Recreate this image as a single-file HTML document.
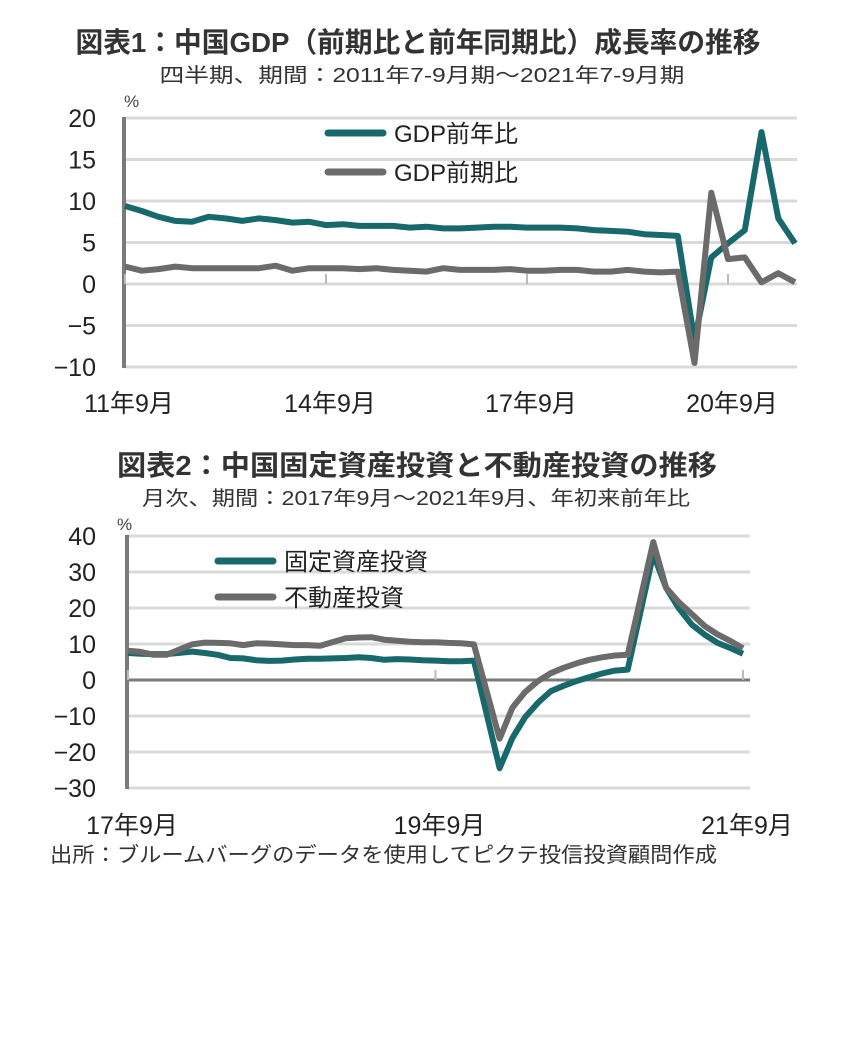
<!DOCTYPE html>
<html><head><meta charset="utf-8">
<style>
html,body{margin:0;padding:0;background:#fff;}
body{width:853px;height:1052px;overflow:hidden;font-family:"Liberation Sans","Noto Sans CJK JP",sans-serif;}
svg text{font-family:"Liberation Sans","Noto Sans CJK JP",sans-serif;}
</style></head>
<body>
<svg id="svg" width="853" height="1052">
<text x="418" y="52" font-size="28" font-weight="bold" text-anchor="middle" fill="#333" textLength="685" lengthAdjust="spacingAndGlyphs">図表1：中国GDP（前期比と前年同期比）成長率の推移</text>
<text x="422" y="82" font-size="20" text-anchor="middle" fill="#333" textLength="525" lengthAdjust="spacingAndGlyphs">四半期、期間：2011年7-9月期～2021年7-9月期</text>
<text x="124" y="107" font-size="17" fill="#444">%</text>
<g id="c1"></g>
<text x="417" y="475" font-size="28" font-weight="bold" text-anchor="middle" fill="#333" textLength="600" lengthAdjust="spacingAndGlyphs">図表2：中国固定資産投資と不動産投資の推移</text>
<text x="416" y="505" font-size="20" text-anchor="middle" fill="#333" textLength="548" lengthAdjust="spacingAndGlyphs">月次、期間：2017年9月～2021年9月、年初来前年比</text>
<text x="117" y="530" font-size="17" fill="#444">%</text>
<g id="c2"></g>
<text x="50" y="862" font-size="21" fill="#333" textLength="667" lengthAdjust="spacingAndGlyphs">出所：ブルームバーグのデータを使用してピクテ投信投資顧問作成</text>
</svg>
<script>
const c1Ticks=[20,15,10,5,0,-5,-10];
const c1XLabels=["11年9月","14年9月","17年9月","20年9月"];
const c1XLabelIdx=[0,12,24,36];
const gdpYoY=[9.4,8.8,8.1,7.6,7.5,8.1,7.9,7.6,7.9,7.7,7.4,7.5,7.1,7.2,7.0,7.0,7.0,6.8,6.9,6.7,6.7,6.8,6.9,6.9,6.8,6.8,6.8,6.7,6.5,6.4,6.3,6.0,5.9,5.8,-6.8,3.2,4.9,6.5,18.3,7.9,4.9];
const gdpQoQ=[2.1,1.6,1.8,2.1,1.9,1.9,1.9,1.9,1.9,2.2,1.6,1.9,1.9,1.9,1.8,1.9,1.7,1.6,1.5,1.9,1.7,1.7,1.7,1.8,1.6,1.6,1.7,1.7,1.5,1.5,1.7,1.5,1.4,1.5,-9.5,11.0,3.0,3.2,0.2,1.3,0.2];

const c2Ticks=[40,30,20,10,0,-10,-20,-30];
const c2XLabels=["17年9月","19年9月","21年9月"];
const c2XLabelIdx=[0,24,48];
// monthly Sep-2017..Sep-2021; January = null (combined Jan-Feb release)
const fai=[7.5,7.3,7.2,7.2,null,7.9,7.5,7.0,6.1,6.0,5.5,5.3,5.4,5.7,5.9,5.9,null,6.1,6.3,6.1,5.6,5.8,5.7,5.5,5.4,5.2,5.2,5.4,null,-24.5,-16.1,-10.3,-6.3,-3.1,-1.6,-0.3,0.8,1.8,2.6,2.9,null,35.0,25.6,19.9,15.4,12.6,10.3,8.9,7.3];
const rei=[8.1,7.8,7.0,7.0,null,9.9,10.4,10.3,10.2,9.7,10.2,10.1,9.9,9.7,9.7,9.5,null,11.6,11.8,11.9,11.2,10.9,10.6,10.5,10.5,10.3,10.2,9.9,null,-16.3,-7.7,-3.3,-0.3,1.9,3.4,4.6,5.6,6.3,6.8,7.0,null,38.3,25.6,21.6,18.3,15.0,12.7,10.9,8.8];

const NS="http://www.w3.org/2000/svg";
function mk(parent,tag,attrs,txt){const e=document.createElementNS(NS,tag);for(const k in attrs)e.setAttribute(k,attrs[k]);if(txt!==undefined)e.textContent=txt;parent.appendChild(e);return e;}
const TEAL="#17696b",GRAY="#6b6b6b";

function chart(g,o){
  const y=v=>o.y0+(o.yMax-v)/(o.yMax-o.yMin)*(o.y1-o.y0);
  const x=i=>o.x0+i/(o.n-1)*(o.x1-o.x0);
  o.ticks.forEach(t=>{
    const l=mk(g,'line',{x1:o.x0,x2:o.gx1,y1:y(t),y2:y(t),stroke:(t===0&&o.darkZero)?'#7a7a7a':'#d9d9d9','stroke-width':3});
    
    
    const tx=mk(g,'text',{x:o.labX,y:y(t)+9,'font-size':25,'text-anchor':'end',fill:'#222'},String(t).replace('-','−'));
    
    
  });
  const ax=mk(g,'line',{x1:o.x0-1,x2:o.x0-1,y1:y(o.yMax)-1,y2:y(o.yMin)+1,stroke:'#7a7a7a','stroke-width':4});
  
  
  o.xIdx.forEach((ix,k)=>{
    const tk=mk(g,'line',{x1:x(ix),x2:x(ix),y1:y(0)-10,y2:y(0),stroke:'#bbb','stroke-width':2});
    
    
    const t=mk(g,'text',{x:x(ix)+(o.xOff||0),y:o.xLabY,'font-size':25,'text-anchor':'middle',fill:'#222'},o.xLabels[k]);
    
    
  });
  o.series.forEach(s=>{
    let d='';s.data.forEach((v,i)=>{if(v===null)return;d+=(d?'L':'M')+x(i).toFixed(1)+','+y(v).toFixed(1);});
    const p=mk(g,'path',{d:d,fill:'none',stroke:s.color,'stroke-width':6,'stroke-linejoin':'round'});
    
    
  });
  o.legend.forEach(L=>{
    const l=mk(g,'line',{x1:L.x,x2:L.x+55,y1:L.y,y2:L.y,stroke:L.color,'stroke-width':7,'stroke-linecap':'round'});
    
    
    const t=mk(g,'text',{x:L.x+66,y:L.y+9,'font-size':24,fill:'#222'},L.label);
    
    
  });
}
chart(document.getElementById('c1'),{x0:125,x1:795,gx1:797,y0:118,y1:367,yMax:20,yMin:-10,n:41,ticks:c1Ticks,labX:96,
  xIdx:c1XLabelIdx,xLabels:c1XLabels,xLabY:412,xOff:4,darkZero:false,
  series:[{data:gdpYoY,color:TEAL,name:'gdp-yoy-line'},{data:gdpQoQ,color:GRAY,name:'gdp-qoq-line'}],
  legend:[{x:328,y:133,color:TEAL,label:'GDP前年比'},{x:328,y:172,color:GRAY,label:'GDP前期比'}]});
chart(document.getElementById('c2'),{x0:128,x1:743,gx1:750,y0:536,y1:788,yMax:40,yMin:-30,n:49,ticks:c2Ticks,labX:96,
  xIdx:c2XLabelIdx,xLabels:c2XLabels,xLabY:834,xOff:4,darkZero:true,
  series:[{data:fai,color:TEAL,name:'fixed-asset-investment-line'},{data:rei,color:GRAY,name:'real-estate-investment-line'}],
  legend:[{x:218,y:561,color:TEAL,label:'固定資産投資'},{x:218,y:597,color:GRAY,label:'不動産投資'}]});
</script>
</body></html>
